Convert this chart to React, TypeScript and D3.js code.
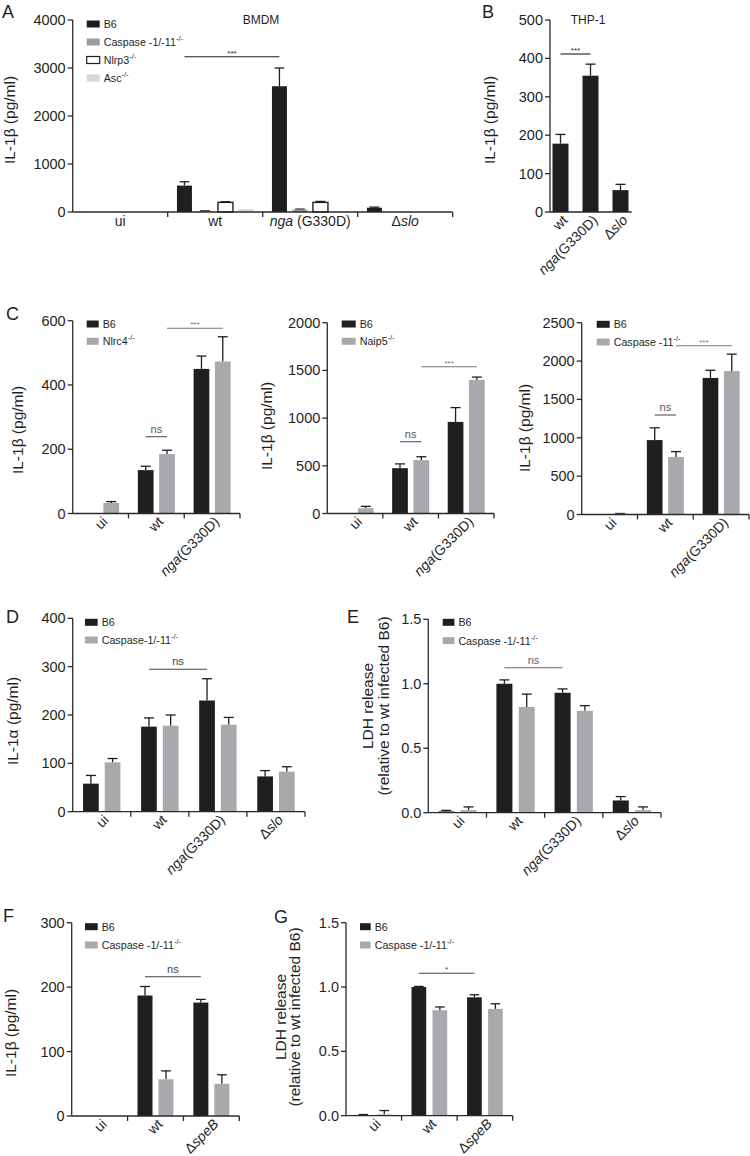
import React from "react";
import * as d3 from "d3";

// ---------- DATA ----------
const aGroups = ["ui", "wt", "nga (G330D)", "Δslo"];
const aB6 = [0, 550, 2620, 90];
const aB6Sem = [0, 80, 380, 12];
const aCasp = [0, 20, 50, 0];
const aCaspSem = [0, 4, 10, 0];
const aNlrp3 = [0, 200, 200, 0];
const aNlrp3Sem = [0, 15, 20, 0];
const aAsc = [0, 60, 0, 0];
const aAscSem = [0, 0, 0, 0];
const aTicks = [0, 1000, 2000, 3000, 4000];

const bGroups = ["wt", "nga(G330D)", "Δslo"];
const bVals = [178, 355, 57];
const bSem = [24, 30, 15];
const bTicks = [0, 100, 200, 300, 400, 500];

const cGroups = ["ui", "wt", "nga(G330D)"];
const c1B6 = [0, 135, 450];
const c1B6Sem = [0, 12, 40];
const c1Nlrc4 = [33, 185, 473];
const c1Nlrc4Sem = [4, 12, 77];
const c1Ticks = [0, 200, 400, 600];

const c2B6 = [0, 475, 960];
const c2B6Sem = [0, 45, 150];
const c2Naip5 = [55, 560, 1400];
const c2Naip5Sem = [20, 35, 30];
const c2Ticks = [0, 500, 1000, 1500, 2000];

const c3B6 = [0, 970, 1780];
const c3B6Sem = [0, 160, 100];
const c3Casp11 = [10, 750, 1870];
const c3Casp11Sem = [3, 70, 220];
const c3Ticks = [0, 500, 1000, 1500, 2000, 2500];

const dGroups = ["ui", "wt", "nga(G330D)", "Δslo"];
const dB6 = [58, 176, 230, 73];
const dB6Sem = [17, 18, 45, 12];
const dCasp = [102, 178, 180, 83];
const dCaspSem = [8, 22, 15, 10];
const dTicks = [0, 100, 200, 300, 400];

const eB6 = [0.01, 1.0, 0.93, 0.095];
const eB6Sem = [0.008, 0.03, 0.03, 0.03];
const eCasp = [0.02, 0.82, 0.79, 0.02];
const eCaspSem = [0.025, 0.1, 0.04, 0.025];
const lTicks = [0, 0.5, 1.0, 1.5];

const fGroups = ["ui", "wt", "ΔspeB"];
const fB6 = [0, 187, 176];
const fB6Sem = [0, 14, 5];
const fCasp = [0, 57, 50];
const fCaspSem = [0, 13, 14];
const fTicks = [0, 100, 200, 300];

const gB6 = [0.005, 1.0, 0.92];
const gB6Sem = [0.004, 0.005, 0.02];
const gCasp = [0.01, 0.82, 0.83];
const gCaspSem = [0.03, 0.025, 0.04];

// ---------- STYLE ----------
const FONT = "'Liberation Sans', Arial, Helvetica, sans-serif";
const BLACK = "#1f1f1f";
const GRAY = "#a7a9ac";
const AXIS = "#2a2a2a";

type Series = { label: [string, string]; fill: string; stroke?: string; values: number[]; sem: number[] };
type Sig = { from: [number, number]; to: [number, number]; y: number; text: string; color?: string };
type PanelCfg = {
  letter: string; lx: number; ly: number;
  x0: number; x1: number; bandRange?: [number, number];
  y0: number; yTop: number; yMax: number; ticks: number[]; fmt?: (v: number) => string;
  groups: string[]; series: Series[]; barW: number; pitch: number;
  xTicks: boolean; rotate: boolean; xLabelY?: number;
  yLabel: string[]; yLabelX: number[]; yLabelY: number;
  legend?: { x: number; y: number; dy: number; w: number; h: number };
  title?: { text: string; x: number; y: number };
  sigs: Sig[];
};

const b6 = (v: number[], s: number[]): Series => ({ label: ["B6", ""], fill: BLACK, values: v, sem: s });
const casp = (v: number[], s: number[]): Series => ({ label: ["Caspase -1/-11", "-/-"], fill: GRAY, values: v, sem: s });
const f1 = (v: number) => d3.format(".1f")(v);

const panels: PanelCfg[] = [
  {
    letter: "A", lx: 2, ly: 18, x0: 72.7, x1: 452.7, y0: 212, yTop: 20, yMax: 4000, ticks: aTicks,
    groups: aGroups,
    series: [
      { label: ["B6", ""], fill: BLACK, values: aB6, sem: aB6Sem },
      { label: ["Caspase -1/-11", "-/-"], fill: "#9c9c9c", values: aCasp, sem: aCaspSem },
      { label: ["Nlrp3", "-/-"], fill: "#ffffff", stroke: BLACK, values: aNlrp3, sem: aNlrp3Sem },
      { label: ["Asc", "-/-"], fill: "#d8d8d8", values: aAsc, sem: aAscSem },
    ],
    barW: 15, pitch: 20.5, xTicks: true, rotate: false, xLabelY: 226,
    yLabel: ["IL-1β (pg/ml)"], yLabelX: [10], yLabelY: 120,
    legend: { x: 86.7, y: 24, dy: 18, w: 13, h: 7 },
    title: { text: "BMDM", x: 261, y: 24 },
    sigs: [{ from: [1, 0], to: [2, 0], y: 56.7, text: "***" }],
  },
  {
    letter: "B", lx: 482, ly: 18, x0: 550, x1: 631.7, bandRange: [545.5, 635.5], y0: 212, yTop: 20, yMax: 500, ticks: bTicks,
    groups: bGroups, series: [{ label: ["", ""], fill: BLACK, values: bVals, sem: bSem }],
    barW: 16, pitch: 0, xTicks: false, rotate: true,
    yLabel: ["IL-1β (pg/ml)"], yLabelX: [490], yLabelY: 120,
    title: { text: "THP-1", x: 588, y: 24 },
    sigs: [{ from: [0, 0], to: [1, 0], y: 54, text: "***" }],
  },
  {
    letter: "C", lx: 6, ly: 320, x0: 72.7, x1: 240, y0: 513.5, yTop: 320.7, yMax: 600, ticks: c1Ticks,
    groups: cGroups,
    series: [b6(c1B6, c1B6Sem), { label: ["Nlrc4", "-/-"], fill: GRAY, values: c1Nlrc4, sem: c1Nlrc4Sem }],
    barW: 15.7, pitch: 21.3, xTicks: true, rotate: true,
    yLabel: ["IL-1β (pg/ml)"], yLabelX: [18], yLabelY: 430,
    legend: { x: 86.7, y: 324, dy: 17.3, w: 12, h: 7 },
    sigs: [
      { from: [1, 0], to: [1, 1], y: 436.7, text: "ns", color: "#555" },
      { from: [1, 1], to: [2, 1], y: 328.3, text: "***", color: "#777" },
    ],
  },
  {
    letter: "", lx: 0, ly: 0, x0: 327.3, x1: 494, y0: 513.5, yTop: 322.7, yMax: 2000, ticks: c2Ticks,
    groups: cGroups,
    series: [b6(c2B6, c2B6Sem), { label: ["Naip5", "-/-"], fill: GRAY, values: c2Naip5, sem: c2Naip5Sem }],
    barW: 15.7, pitch: 21.3, xTicks: true, rotate: true,
    yLabel: ["IL-1β (pg/ml)"], yLabelX: [266.5], yLabelY: 426,
    legend: { x: 341.7, y: 324, dy: 17.3, w: 14, h: 7 },
    sigs: [
      { from: [1, 0], to: [1, 1], y: 441.7, text: "ns", color: "#555" },
      { from: [1, 1], to: [2, 1], y: 366.7, text: "***", color: "#777" },
    ],
  },
  {
    letter: "", lx: 0, ly: 0, x0: 581.7, x1: 749, y0: 514.5, yTop: 322.7, yMax: 2500, ticks: c3Ticks,
    groups: cGroups,
    series: [b6(c3B6, c3B6Sem), { label: ["Caspase -11", "-/-"], fill: GRAY, values: c3Casp11, sem: c3Casp11Sem }],
    barW: 15.7, pitch: 21.3, xTicks: true, rotate: true,
    yLabel: ["IL-1β (pg/ml)"], yLabelX: [525], yLabelY: 428,
    legend: { x: 596.7, y: 324.3, dy: 17.7, w: 13, h: 7 },
    sigs: [
      { from: [1, 0], to: [1, 1], y: 415, text: "ns", color: "#555" },
      { from: [1, 1], to: [2, 1], y: 345.7, text: "***", color: "#777" },
    ],
  },
  {
    letter: "D", lx: 6, ly: 623, x0: 72.7, x1: 305, y0: 811.7, yTop: 618.3, yMax: 400, ticks: dTicks,
    groups: dGroups,
    series: [b6(dB6, dB6Sem), { label: ["Caspase-1/-11", "-/-"], fill: GRAY, values: dCasp, sem: dCaspSem }],
    barW: 15.7, pitch: 21.7, xTicks: true, rotate: true,
    yLabel: ["IL-1α (pg/ml)"], yLabelX: [12.5], yLabelY: 721,
    legend: { x: 85, y: 622.3, dy: 17.7, w: 12.7, h: 7 },
    sigs: [{ from: [1, 0], to: [2, 0], y: 669.3, text: "ns", color: "#444" }],
  },
  {
    letter: "E", lx: 347, ly: 623, x0: 428.3, x1: 661, y0: 812.7, yTop: 619.3, yMax: 1.5, ticks: lTicks, fmt: f1,
    groups: dGroups,
    series: [b6(eB6, eB6Sem), casp(eCasp, eCaspSem)],
    barW: 16, pitch: 22.3, xTicks: true, rotate: true,
    yLabel: ["LDH release", "(relative to wt infected B6)"], yLabelX: [367.5, 383.5], yLabelY: 706,
    legend: { x: 442.7, y: 622.3, dy: 18.3, w: 11.7, h: 7 },
    sigs: [{ from: [1, 0], to: [2, 0], y: 667.7, text: "ns", color: "#666" }],
  },
  {
    letter: "F", lx: 3, ly: 922, x0: 71.7, x1: 239.3, y0: 1116, yTop: 922.7, yMax: 300, ticks: fTicks,
    groups: fGroups,
    series: [b6(fB6, fB6Sem), casp(fCasp, fCaspSem)],
    barW: 15, pitch: 21, xTicks: true, rotate: true,
    yLabel: ["IL-1β (pg/ml)"], yLabelX: [11], yLabelY: 1033,
    legend: { x: 85, y: 926.7, dy: 18.3, w: 12.7, h: 7 },
    sigs: [{ from: [1, 0], to: [2, 0], y: 976.7, text: "ns", color: "#444" }],
  },
  {
    letter: "G", lx: 274, ly: 923, x0: 346, x1: 512.7, y0: 1115.7, yTop: 922.7, yMax: 1.5, ticks: lTicks, fmt: f1,
    groups: fGroups,
    series: [b6(gB6, gB6Sem), casp(gCasp, gCaspSem)],
    barW: 14.7, pitch: 21, xTicks: true, rotate: true,
    yLabel: ["LDH release", "(relative to wt infected B6)"], yLabelX: [281, 295], yLabelY: 1017,
    legend: { x: 360, y: 926.7, dy: 18.3, w: 10.7, h: 7 },
    sigs: [{ from: [1, 0], to: [2, 0], y: 973.3, text: "*", color: "#444" }],
  },
];

function XLabel({ text }: { text: string }) {
  if (text.startsWith("nga")) {
    return (
      <>
        <tspan fontStyle="italic">nga</tspan>
        <tspan>{text.slice(3)}</tspan>
      </>
    );
  }
  if (text.startsWith("Δ")) {
    return (
      <>
        <tspan>Δ</tspan>
        <tspan fontStyle="italic">{text.slice(1)}</tspan>
      </>
    );
  }
  return <>{text}</>;
}

function Panel({ p }: { p: PanelCfg }) {
  const y = d3.scaleLinear().domain([0, p.yMax]).range([p.y0, p.yTop]);
  const band = d3.scaleBand<string>().domain(p.groups).range(p.bandRange ?? [p.x0, p.x1]).padding(0);
  const n = p.series.length;
  const cx = (g: number, s: number) =>
    (band(p.groups[g]) as number) + band.bandwidth() / 2 + (s - (n - 1) / 2) * p.pitch;
  const fmt = p.fmt ?? ((v: number) => String(v));
  const capW = Math.min(10, p.barW * 0.65);
  const boundaries = p.groups.map((g) => (band(g) as number) + band.bandwidth());

  return (
    <g>
      {p.letter && (
        <text x={p.lx} y={p.ly} fontSize={18} fill={BLACK}>{p.letter}</text>
      )}
      {p.title && (
        <text x={p.title.x} y={p.title.y} fontSize={12} textAnchor="middle" fill={BLACK}>{p.title.text}</text>
      )}
      {/* bars */}
      {p.series.map((s, si) =>
        s.values.map((v, gi) => {
          const c = cx(gi, si);
          const top = y(v);
          const els: any[] = [];
          if (s.sem[gi] > 0) {
            const et = y(v + s.sem[gi]);
            els.push(
              <g key={`e${si}-${gi}`} stroke={BLACK} strokeWidth={1.3}>
                <line x1={c} x2={c} y1={top} y2={et} />
                <line x1={c - capW / 2} x2={c + capW / 2} y1={et} y2={et} />
              </g>
            );
          }
          if (v > 0) {
            els.push(
              <rect
                key={`b${si}-${gi}`}
                x={c - p.barW / 2}
                y={top}
                width={p.barW}
                height={p.y0 - top}
                fill={s.fill}
                stroke={s.stroke ?? "none"}
                strokeWidth={s.stroke ? 1.4 : 0}
              />
            );
          }
          return els;
        })
      )}
      {/* y axis */}
      <line x1={p.x0} x2={p.x0} y1={p.yTop} y2={p.y0} stroke={AXIS} strokeWidth={1.3} />
      {p.ticks.map((t) => (
        <g key={t}>
          <line x1={p.x0 - 5} x2={p.x0} y1={y(t)} y2={y(t)} stroke={AXIS} strokeWidth={1.3} />
          <text x={p.x0 - 7} y={y(t)} dy="0.35em" textAnchor="end" fontSize={14.5} fill={BLACK}>
            {fmt(t)}
          </text>
        </g>
      ))}
      {/* x axis */}
      <line x1={p.x0} x2={p.x1} y1={p.y0} y2={p.y0} stroke={AXIS} strokeWidth={1.3} />
      {p.xTicks &&
        boundaries.map((b, i) => (
          <line key={i} x1={b} x2={b} y1={p.y0} y2={p.y0 + 5} stroke={AXIS} strokeWidth={1.3} />
        ))}
      {p.groups.map((g, gi) => {
        const c = (band(g) as number) + band.bandwidth() / 2;
        if (!p.rotate) {
          return (
            <text key={g} x={c} y={p.xLabelY} textAnchor="middle" fontSize={14} fill={BLACK}>
              <XLabel text={g} />
            </text>
          );
        }
        const ax = c + 8;
        const ay = p.y0 + 9;
        return (
          <text key={g} x={ax} y={ay} textAnchor="end" fontSize={14} fill={BLACK} transform={`rotate(-45 ${ax} ${ay})`}>
            <XLabel text={g} />
          </text>
        );
      })}
      {/* y label */}
      {p.yLabel.map((l, i) => (
        <text
          key={i}
          x={p.yLabelX[i]}
          y={p.yLabelY}
          transform={`rotate(-90 ${p.yLabelX[i]} ${p.yLabelY})`}
          textAnchor="middle"
          dy="0.35em"
          fontSize={15.5}
          fill={BLACK}
        >
          {l}
        </text>
      ))}
      {/* legend */}
      {p.legend &&
        p.series.map((s, i) => {
          const L = p.legend!;
          const yy = L.y + i * L.dy;
          return (
            <g key={i}>
              <rect
                x={L.x}
                y={yy - L.h / 2}
                width={L.w}
                height={L.h}
                fill={s.fill}
                stroke={s.stroke ?? "none"}
                strokeWidth={s.stroke ? 1.2 : 0}
              />
              <text x={L.x + L.w + 4} y={yy + 4} fontSize={10.7} fill={BLACK}>
                {s.label[0]}
                {s.label[1] && (
                  <tspan fontSize={7.5} dy={-5}>
                    {s.label[1]}
                  </tspan>
                )}
              </text>
            </g>
          );
        })}
      {/* significance */}
      {p.sigs.map((s, i) => {
        const xa = cx(s.from[0], s.from[1]);
        const xb = cx(s.to[0], s.to[1]);
        const col = s.color ?? BLACK;
        const isStar = s.text.includes("*");
        return (
          <g key={i}>
            <line x1={xa} x2={xb} y1={s.y} y2={s.y} stroke={col} strokeWidth={1.1} />
            <text
              x={(xa + xb) / 2}
              y={isStar ? s.y - 1 : s.y - 4}
              textAnchor="middle"
              fontSize={isStar ? 8 : 11}
              fill={col}
            >
              {s.text}
            </text>
          </g>
        );
      })}
    </g>
  );
}

export default function App() {
  return (
    <svg
      width={750}
      height={1156}
      viewBox="0 0 750 1156"
      style={{ position: "absolute", left: 0, top: 0, background: "#fff", fontFamily: FONT }}
    >
      <rect x={0} y={0} width={750} height={1156} fill="#fff" />
      {panels.map((p, i) => (
        <Panel key={i} p={p} />
      ))}
    </svg>
  );
}
